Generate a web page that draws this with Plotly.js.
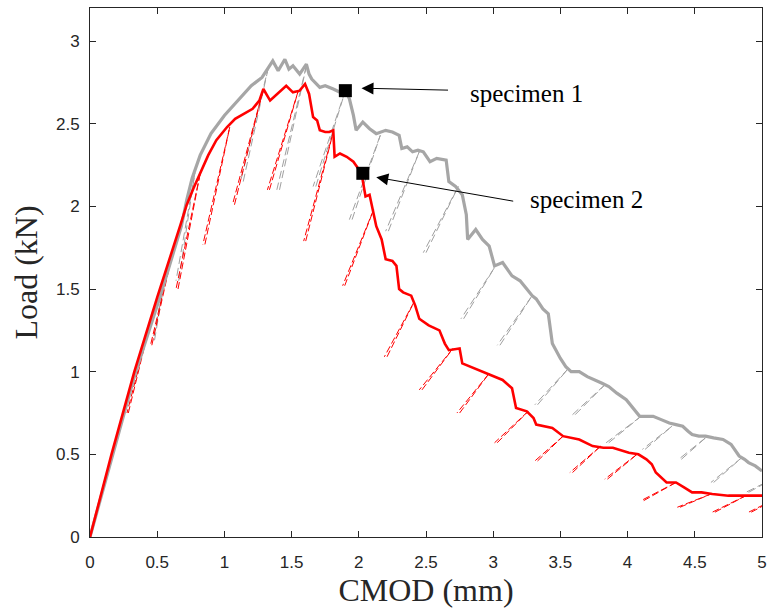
<!DOCTYPE html>
<html>
<head>
<meta charset="utf-8">
<script src="https://cdn.plot.ly/plotly-3.0.1.min.js"></script>
<style>html,body{margin:0;padding:0;background:#fff;}#chart{width:769px;height:614px;}</style>
</head>
<body>
<div id="chart"></div>
<script>
// ---- Specimen 1 (grey) envelope: CMOD (mm), Load (kN)
const spec1X = [0, 0.17, 0.34, 0.52, 0.68, 0.72, 0.76, 0.82, 0.9, 1.0, 1.11, 1.2, 1.28,
  1.36, 1.40, 1.45, 1.48, 1.51, 1.56, 1.61, 1.63, 1.65, 1.71,
  1.75, 1.81, 1.86, 1.90, 1.93, 1.96, 1.98, 2.03, 2.08, 2.13,
  2.2, 2.25, 2.30, 2.32, 2.36, 2.40, 2.44, 2.48, 2.53, 2.58,
  2.65, 2.67, 2.72, 2.77, 2.80, 2.81, 2.87, 2.92, 2.97, 3.01,
  3.07, 3.14, 3.20, 3.25, 3.29, 3.32, 3.37, 3.41, 3.44, 3.50,
  3.54, 3.58, 3.64, 3.70, 3.76, 3.81, 3.86, 3.92, 3.99, 4.04,
  4.09, 4.14, 4.19, 4.25, 4.31, 4.36, 4.41, 4.45, 4.48, 4.53,
  4.58, 4.64, 4.71, 4.77, 4.83, 4.87, 4.90, 4.95, 5.0];
const spec1Y = [0, 0.5, 1.0, 1.45, 1.88, 2.04, 2.17, 2.31, 2.44, 2.55, 2.65, 2.73, 2.78,
  2.88, 2.82, 2.89, 2.83, 2.85, 2.80, 2.86, 2.80, 2.77, 2.72,
  2.73, 2.71, 2.69, 2.70, 2.65, 2.55, 2.46, 2.51, 2.47, 2.44,
  2.46, 2.45, 2.43, 2.35, 2.36, 2.33, 2.34, 2.33, 2.27, 2.29,
  2.28, 2.15, 2.12, 2.07, 1.95, 1.80, 1.86, 1.80, 1.76, 1.64,
  1.66, 1.58, 1.55, 1.50, 1.46, 1.44, 1.38, 1.35, 1.17, 1.08,
  1.03, 1.00, 1.00, 0.97, 0.95, 0.93, 0.91, 0.87, 0.83, 0.78,
  0.73, 0.73, 0.73, 0.71, 0.69, 0.68, 0.67, 0.64, 0.62, 0.61,
  0.61, 0.60, 0.59, 0.56, 0.49, 0.47, 0.45, 0.43, 0.40];

// ---- Specimen 2 (red) envelope
const spec2X = [0, 0.16, 0.33, 0.50, 0.67, 0.72, 0.77, 0.82, 0.88, 0.94, 1.02, 1.08, 1.14,
  1.21, 1.26, 1.29, 1.34, 1.39, 1.46, 1.51, 1.56, 1.60, 1.63,
  1.66, 1.69, 1.71, 1.75, 1.78, 1.81, 1.82, 1.86, 1.91, 1.96,
  2.02, 2.05, 2.08, 2.10, 2.13, 2.17, 2.20, 2.25, 2.28, 2.30, 2.33, 2.39,
  2.42, 2.45, 2.52, 2.60, 2.64, 2.67, 2.75, 2.77, 2.83,
  2.90, 2.99, 3.07, 3.14, 3.17, 3.25, 3.30, 3.32, 3.38, 3.44,
  3.52, 3.58, 3.64, 3.74, 3.82, 3.89, 4.01, 4.08, 4.14, 4.18,
  4.21, 4.29, 4.36, 4.42, 4.48, 4.55, 4.63, 4.75, 4.85, 5.0];
const spec2Y = [0, 0.5, 1.0, 1.45, 1.88, 2.01, 2.11, 2.20, 2.31, 2.40, 2.48, 2.53, 2.56,
  2.59, 2.64, 2.71, 2.64, 2.68, 2.73, 2.69, 2.70, 2.74, 2.68,
  2.54, 2.52, 2.46, 2.45, 2.45, 2.46, 2.30, 2.32, 2.30, 2.27,
  2.20, 2.06, 2.07, 2.00, 1.88, 1.80, 1.68, 1.67, 1.64, 1.50, 1.48, 1.46,
  1.40, 1.32, 1.28, 1.25, 1.17, 1.13, 1.14, 1.05, 1.03,
  1.01, 0.98, 0.95, 0.90, 0.78, 0.76, 0.72, 0.68, 0.67, 0.66,
  0.61, 0.60, 0.59, 0.55, 0.54, 0.54, 0.51, 0.50, 0.47, 0.44,
  0.39, 0.33, 0.33, 0.30, 0.27, 0.27, 0.26, 0.25, 0.25, 0.25];

// ---- Unloading / reloading cycles, specimen 1 (top on envelope -> bottom)
const cyc1TopX    = [0.57, 0.78, 1.33, 1.61, 1.90, 2.16, 2.45, 2.74, 3.01, 3.29, 3.56, 3.83, 4.10, 4.33, 4.58, 4.85, 5.10];
const cyc1TopY    = [1.62, 2.20, 2.85, 2.85, 2.70, 2.43, 2.33, 2.12, 1.63, 1.46, 1.02, 0.92, 0.73, 0.67, 0.60, 0.48, 0.36];
const cyc1BotX    = [0.47, 0.64, 1.12, 1.39, 1.66, 1.93, 2.20, 2.48, 2.76, 3.03, 3.31, 3.59, 3.84, 4.11, 4.38, 4.62, 4.88];
const cyc1BotY    = [1.19, 1.55, 2.15, 2.10, 2.12, 1.92, 1.85, 1.72, 1.32, 1.16, 0.80, 0.74, 0.57, 0.53, 0.47, 0.33, 0.27];
const cyc1ReloadX = [0.48, 0.66, 1.14, 1.41, 1.68, 1.95, 2.22, 2.50, 2.78, 3.05, 3.33, 3.61, 3.86, 4.13, 4.40, 4.64, 4.90];

// ---- Unloading / reloading cycles, specimen 2
const cyc2TopX    = [0.45, 0.62, 0.82, 1.04, 1.29, 1.55, 1.81, 2.11, 2.41, 2.70, 2.97, 3.26, 3.52, 3.80, 4.07, 4.36, 4.62, 4.88, 5.15];
const cyc2TopY    = [1.30, 1.74, 2.20, 2.48, 2.71, 2.70, 2.45, 1.98, 1.42, 1.14, 0.99, 0.76, 0.61, 0.55, 0.50, 0.33, 0.26, 0.25, 0.25];
const cyc2BotX    = [0.275, 0.45, 0.64, 0.84, 1.06, 1.32, 1.59, 1.88, 2.19, 2.45, 2.73, 3.01, 3.31, 3.57, 3.83, 4.10, 4.37, 4.63, 4.90];
const cyc2BotY    = [0.75, 1.16, 1.50, 1.77, 2.01, 2.10, 1.79, 1.52, 1.09, 0.89, 0.75, 0.57, 0.46, 0.39, 0.35, 0.22, 0.18, 0.15, 0.15];
const cyc2ReloadX = [0.285, 0.46, 0.655, 0.855, 1.075, 1.335, 1.605, 1.895, 2.21, 2.47, 2.75, 3.03, 3.33, 3.59, 3.85, 4.12, 4.39, 4.65, 4.92];

// ---- Highlighted points and labels
const markX = [1.90, 2.03];
const markY = [2.70, 2.20];
const labels = ['specimen 1', 'specimen 2'];

function cyclePaths(topX, topY, botX, botY, relX) {
  const x = [], y = [];
  for (let i = 0; i < topX.length; i++) {
    x.push(topX[i], botX[i], null, relX[i], topX[i], null);
    y.push(topY[i], botY[i], null, botY[i], topY[i], null);
  }
  return {x, y};
}
const c1 = cyclePaths(cyc1TopX, cyc1TopY, cyc1BotX, cyc1BotY, cyc1ReloadX);
const c2 = cyclePaths(cyc2TopX, cyc2TopY, cyc2BotX, cyc2BotY, cyc2ReloadX);

const traces = [
  {x: c1.x, y: c1.y, mode: 'lines', connectgaps: false,
   line: {color: '#a0a0a0', width: 1, dash: '8px,4px'}, hoverinfo: 'skip'},
  {x: c2.x, y: c2.y, mode: 'lines', connectgaps: false,
   line: {color: '#ff0000', width: 1, dash: '7px,3px'}, hoverinfo: 'skip'},
  {x: spec1X, y: spec1Y, mode: 'lines', line: {color: '#a6a6a6', width: 3.2}},
  {x: spec2X, y: spec2Y, mode: 'lines', line: {color: '#ff0000', width: 2.6}},
  {x: markX, y: markY, mode: 'markers', marker: {symbol: 'square', size: 13, color: '#000'}}
];

const axisCommon = {
  showline: true, linecolor: '#262626', linewidth: 1, mirror: 'ticks',
  ticks: 'inside', ticklen: 6, tickcolor: '#262626', tickwidth: 1,
  showgrid: false, zeroline: false,
  tickfont: {family: 'Liberation Sans, Arial, sans-serif', size: 17, color: '#262626'}
};

const layout = {
  width: 769, height: 614,
  margin: {l: 90, r: 7, t: 8, b: 77},
  paper_bgcolor: '#fff', plot_bgcolor: '#fff',
  showlegend: false,
  xaxis: Object.assign({}, axisCommon, {
    range: [0, 5], dtick: 0.5, tick0: 0, ticklabelstandoff: 10,
    title: {text: 'CMOD (mm)', standoff: 0,
      font: {family: 'Liberation Serif, Times New Roman, serif', size: 32, color: '#262626'}}
  }),
  yaxis: Object.assign({}, axisCommon, {
    range: [0, 3.2], dtick: 0.5, tick0: 0, ticklabelstandoff: 6,
    title: {text: 'Load (kN)', standoff: 8,
      font: {family: 'Liberation Serif, Times New Roman, serif', size: 32, color: '#262626'}}
  }),
  annotations: [
    {x: 2.02, y: 2.715, ax: 2.675, ay: 2.703, xref: 'x', yref: 'y', axref: 'x', ayref: 'y',
     text: '', showarrow: true, arrowhead: 2, arrowsize: 2.4, arrowwidth: 1, arrowcolor: '#000'},
    {x: 2.13, y: 2.176, ax: 3.16, ay: 2.03, xref: 'x', yref: 'y', axref: 'x', ayref: 'y',
     text: '', showarrow: true, arrowhead: 2, arrowsize: 2.4, arrowwidth: 1, arrowcolor: '#000'},
    {x: 2.81, y: 2.68, xref: 'x', yref: 'y', text: labels[0], showarrow: false, xanchor: 'left', yanchor: 'middle',
     font: {family: 'Liberation Serif, Times New Roman, serif', size: 25, color: '#000'}},
    {x: 3.26, y: 2.04, xref: 'x', yref: 'y', text: labels[1], showarrow: false, xanchor: 'left', yanchor: 'middle',
     font: {family: 'Liberation Serif, Times New Roman, serif', size: 25, color: '#000'}}
  ]
};

Plotly.newPlot('chart', traces, layout, {staticPlot: true, displayModeBar: false});
</script>
</body>
</html>
